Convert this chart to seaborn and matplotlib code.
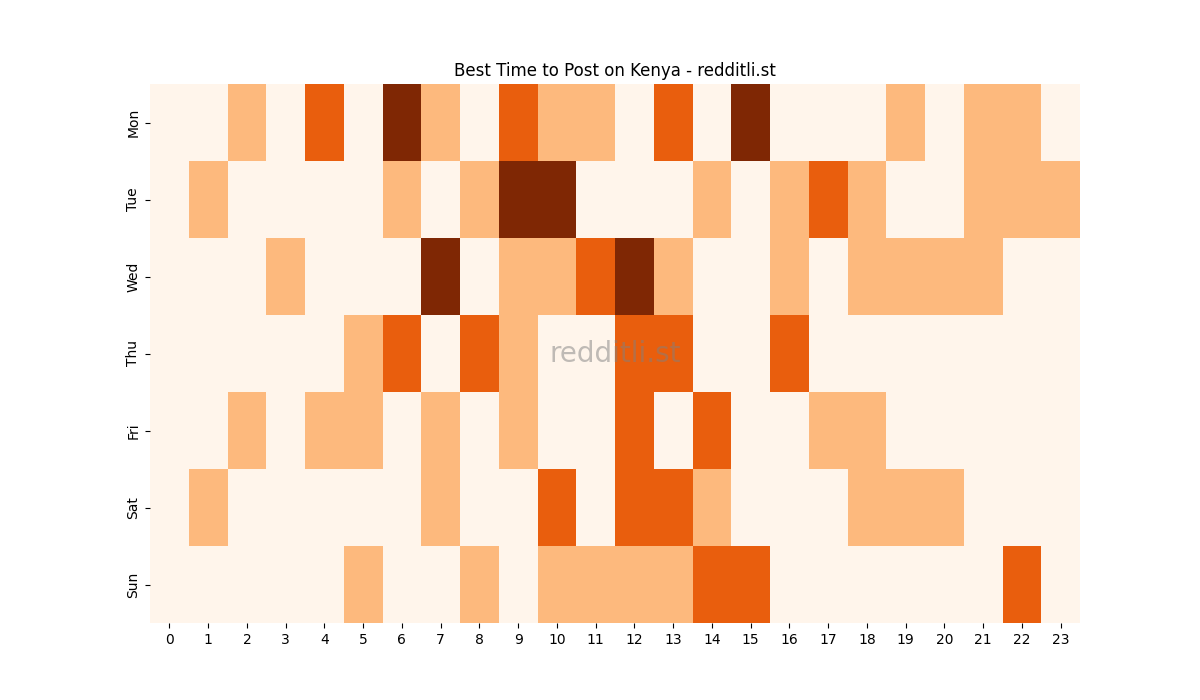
import matplotlib
matplotlib.use("Agg")
import matplotlib.pyplot as plt
import seaborn as sns
import numpy as np

days = ["Mon", "Tue", "Wed", "Thu", "Fri", "Sat", "Sun"]
hours = list(range(24))
mon = [0,0,1,0,2,0,3,1,0,2,1,1,0,2,0,3,0,0,0,1,0,1,1,0]
tue = [0,1,0,0,0,0,1,0,1,3,3,0,0,0,1,0,1,2,1,0,0,1,1,1]
wed = [0,0,0,1,0,0,0,3,0,1,1,2,3,1,0,0,1,0,1,1,1,1,0,0]
thu = [0,0,0,0,0,1,2,0,2,1,0,0,2,2,0,0,2,0,0,0,0,0,0,0]
fri = [0,0,1,0,1,1,0,1,0,1,0,0,2,0,2,0,0,1,1,0,0,0,0,0]
sat = [0,1,0,0,0,0,0,1,0,0,2,0,2,2,1,0,0,0,1,1,1,0,0,0]
sun = [0,0,0,0,0,1,0,0,1,0,1,1,1,1,2,2,0,0,0,0,0,0,2,0]
data = np.array([mon, tue, wed, thu, fri, sat, sun])

fig, ax = plt.subplots(figsize=(12, 7), dpi=100)
sns.heatmap(data, cmap="Oranges", cbar=False, ax=ax, vmin=0, vmax=3,
            xticklabels=hours, yticklabels=days)
ax.set_title("Best Time to Post on Kenya - redditli.st")
ax.tick_params(axis="x", rotation=0)
ax.tick_params(axis="y", rotation=90)
ax.text(0.5, 0.5, "redditli.st", transform=ax.transAxes, ha="center", va="center",
        fontsize=20, color="gray", alpha=0.5)
fig.savefig("out.png")
